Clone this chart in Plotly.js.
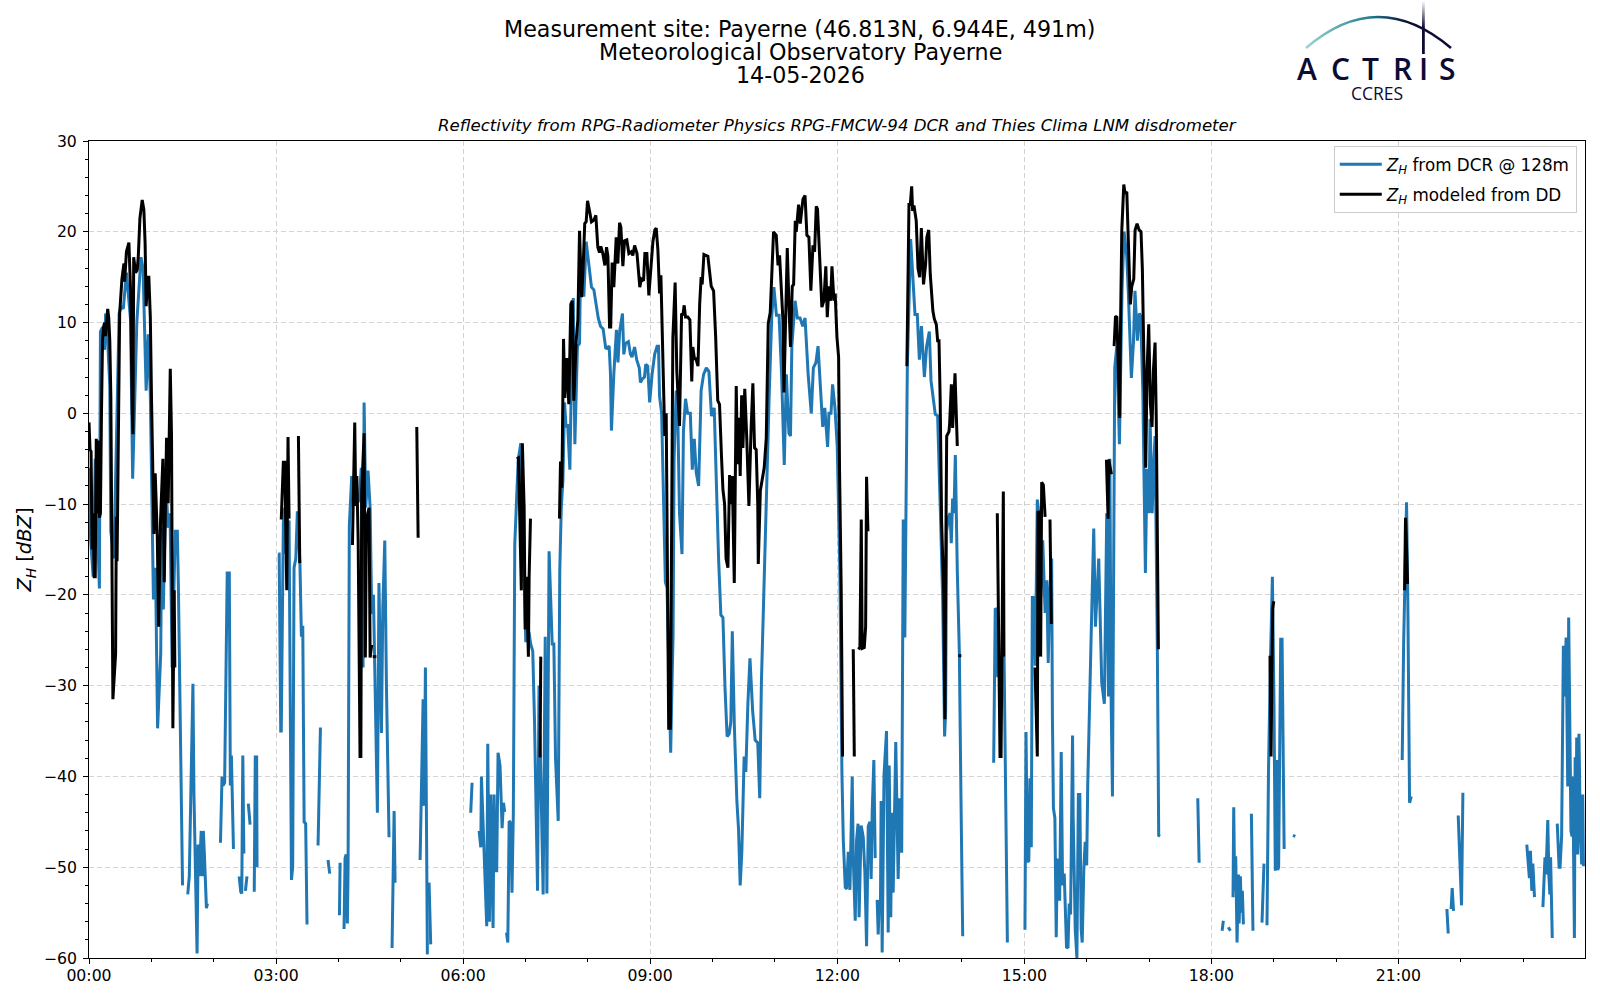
<!DOCTYPE html>
<html>
<head>
<meta charset="utf-8">
<script src="https://cdn.plot.ly/plotly-3.0.1.min.js"></script>
<style>body{margin:0;background:#fff}</style>
</head>
<body>
<div id="graph" style="width:1600px;height:1000px"></div>
<script>
// every point is [minutes since 00:00, dBZ], null means a gap in the line
var dcr_night = [[0,-6],[1,-13],[4,-18],[6,-5],[10,-19.3],[11,9],[13,9.5],[15,7],[16,11],[18,8],[20,3],[21,-13],[24,-16],[26,-5],[29,11],[31,11.8],[33,11.5],[36,15.5],[40,10.3],[42,-7.2],[46,10],[50,17.2],[52,16],[55,2.5],[57,8.7],[59,2],[62,-20.5],[64,-17],[66,-34.7],[69,-26.5],[70,-12.6],[71.5,-21.6],[74,-7.3],[76,-12.6],[78,-11],[80,-28],[83,-13],[85,-13],[86,-19],[90,-52],null,
  [95,-53],[96.5,-51],[100,-29.8],[101,-42],[104,-59.5],[105,-47.5],[106,-51],[107,-47.5],[108,-46],[109,-51],[110,-46],[111,-48.5],[113,-54.5],[114,-54],null,
  [126.5,-47.3],[128,-40],[129,-41],[130.5,-40.7],[133,-17.6],[135,-17.6],[136,-41],[137,-37.7],[139,-48],null,
  [144.5,-51],[146,-52.7],[147,-52.9],[148,-37.7],[149,-48.5],null,[150.5,-52.6],[152,-51],null,[153.3,-43],[155,-45.3],null,
  [159,-52.7],[160,-37.7],[160.7,-49.7],[161.3,-37.7],[161.7,-50],null,
  [182,-15.5],[183,-15.5],[184.5,-35],[185,-35],[187,-12],[188.4,-10.4],[189.6,-15.5],[192.5,-11.8],[194.8,-51.4],[196,-50],[197.3,-17],[199,-16],[200.5,-10.8],[203,-16.7],[204.4,-24.6],[205.7,-23.4],[207,-45],[208.5,-45.2],[209.8,-56.3],null,
  [220.4,-47.6],[221.4,-43],[222.7,-34.6],null,[230,-49.2],[231.6,-50.7],null,[241,-55.3],[241.6,-49.5],null,
  [245.4,-56.8],[246.4,-49],[247.4,-48.6],[248.6,-56.2],[249.3,-50],[250,-30],[250.5,-12.4],[252.8,-6.9],[255,-10],[256.7,-10],[260,-9.6],[262,-6],[263.7,-28],[264.7,1.2],[266.3,-10.4],[268.5,-6.3],[270.5,-10.4],[272,-21.9],[273,-22],[273.7,-20],[275.4,-30],[277.5,-44],[279,-18.7],[281.4,-35.2],[282.7,-21.5],[284.6,-14],[286.2,-30],[288.7,-46.7],null,
  [291.6,-58.9],[293.6,-43.8],[294.5,-51.7],null,[318.6,-49.2],[321.5,-31.5],[322,-43],[322.6,-43.2],[323.7,-28],[325.6,-59.6],null,[327.2,-51.7],[328.8,-58.5],null];

var dcr_morning = [[367.3,-44],[368.6,-40.7],null,
  [375.4,-46],[377,-47.8],[377.6,-40],[379.5,-46.2],[382.7,-56.5],[383.7,-36.4],[385.3,-56],[386.6,-42],[388.8,-56.7],[389.8,-42],[391,-50.4],[392.3,-50.4],[393.6,-37.4],[395.5,-38.8],[397.5,-45.7],[398.8,-42.9],[400,-43.9],null,
  [401.7,-57.2],[403,-58.3],[404.3,-44.9],[406,-45.2],[407,-52.8],[408.3,-44],[409.7,-14.4],[413,-5.1],[415.5,-3.3],[417.2,-10.4],[420.3,-25.2],[421.9,-23.8],[423.5,-24.2],[425,-25.4],[427,-26.2],[428.7,-34],[431.6,-52.6],[433,-30],[434.3,-38],[437,-53],[439,-24.6],[440.6,-52.9],[442.7,-15.2],[444.3,-20.7],[445.7,-25.4],[447.3,-25.4],[448.9,-38],[451.5,-44.9],
  [453,-17.3],[454.4,-10.5],[456,-7.4],[457.6,1.2],[459,-1.5],[460.6,-1.2],[462.7,-6.2],[464.3,4.3],[466,12.7],[467.5,-3.4],[470,7.4],[472,7.7],[473,16.7],[474.6,13],[476.2,13],[478.4,18.9],[480,17.3],[482,16],[483.5,13.9],[485.8,13.6],[487.4,12.3],[490,10.5],[492.2,9.6],[494.7,9.3],[497.3,7.1],[500.5,7.4],[501.8,4.3],[502.7,-1.9],[505,4.3],[507.5,9.2],[509,5.6],[510.6,9],[513.3,11],[514.6,6.5],[516.2,7.7],[519,7.9],[521,6.5],[522.5,6.2],[525,7.3],[527,5.9],[529.5,5],[530.6,3.4],[532.5,3.8],[534.5,4],[535.7,5.4],[537.6,5.2],[539.5,1.2],[541.8,4.3],[544.3,6.5],[546.6,7.4],[548,7.4],[549,1.9],[551,0],[553,-10],[554.6,-18.6],[556.2,-19.2],[557.8,-29],[559.7,-37.4],[561,-29.7],[562,-24.5],[563,-5],[565,2.5],[566.6,-.6],[568.2,-11],[570.6,-15.5],[572,-1.9],[574,1.6],[576,0],[578.6,0],[580.5,-6.2],[582.4,-2.8],[584.3,-6.5],[586.6,-8],[589,2.5],[591.4,4.3],[594,5],[596.5,4.6],[599,-.3],[601.6,.6],[603.5,-8],[605.8,-16],[608,-22.2],[610,-22.5],[612,-30.3],[614,-35.6],[616,-35.3],[617.6,-34],[619,-24],[621,-34.5],[623.4,-42.7],[625,-45.8],[626.6,-52],[628.2,-48.2],[630.4,-37.8],[632,-39.5],[634,-32],[636,-27],[638.6,-32.8],[641,-36],[643.5,-36.3],[645.4,-42.4],[647,-29.7],[649,-20.4],[652,-8],[654.5,2],[657,10.8],[659,13.9],[661.5,10.8],[664,10.8],[666.4,4.3],[669,-5.7],[671,4.3],[673.5,-2.2],[675,-2.5],[676.3,7.4],[679.4,12.4],[681.6,10.5],[684.2,10.5],[686.8,9.6],[689,10.5],[692,4.3],[695,0],[697,5],[699.5,5.6],[701.5,7.4],[704,2.5],[706,-1.5],[708,.6],[710.7,-3.7],[712,0],[714,0],[715.5,3.2],[717.8,.6],[720,-3.7],[722.5,-17.3],[724.5,-39.7],
  [725.8,-47],[727.7,-52.2],[729,-52.4],[730.6,-48.3],[732.2,-52.5],[734.4,-40],[735.4,-49],[737.3,-55.9],[738.6,-47],[740,-45.2],[741,-55.5],[743,-45.4],[745,-46.7],[746.6,-50.7],[748.2,-58.7],[749.8,-45.5],[751.4,-45],[752.6,-51.3],[753.6,-44],[755.2,-38.2],[756.5,-49],null,
  [758.4,-53.6],[759.4,-57.4],[760.4,-53.7],[761.6,-53.8],[762.2,-42.7],[763.2,-59.4],[765,-39.8],[767.4,-35],[769,-57.2],[770,-38.8],[771.5,-55.5],[772.5,-44],[773.8,-52.8],[775,-43.2],[776.3,-36.2],[778.6,-51.3],[780,-42.4],[782,-48.4],[783.5,-11.7],[785,-24.7],[786,-11.4],[787.4,5],[790.6,19.2],[793,13.6],[794.8,10.9],[797,10.9],[799,5.9],[801,9.6],[803.8,4],[806,7.4],[808.6,9],[810.2,3.6],[812.4,1.8],[814.3,-.1],[816.6,-.3],[818,-5],[819.5,-12],[821.4,-20.3],[823.3,-35.6],[824.3,-32.8],[825.2,-13],[827,-11.4],[828.6,-11],[829.7,-14.3],[831,-9.4],[832.3,-11],[833.6,-4.6],[835.5,-17.3],[837.5,-26.5],[839,-42],[840.7,-57.6],null];

var dcr_afternoon = [[870.5,-38.5],[872,-21.5],[873.3,-21.6],[874.3,-28.9],[876.6,-28.9],[878.8,-27],[880.5,-26.8],[883.7,-58.3],null,
  [900.6,-56.9],[901.6,-35.1],[903,-49.3],[904.3,-49.4],[905.4,-40.2],[906.7,-47.8],[907.7,-20.3],[909.3,-20.3],[910.6,-27.8],[912.5,-9.5],[914,-11],[915.7,-20.3],[917.7,-14],[920,-22],[921.6,-18.4],[923,-27.5],[924.6,-19.3],[926.3,-16],[927,-33],[928,-43.5],[929.4,-44.6],[930.7,-57.7],[931.7,-49.3],[932.6,-49.1],[934,-53.7],[935.5,-37.3],[936.8,-52],[938.4,-50.7],[940.6,-58.8],[942,-58.9],[943.2,-54],[944.5,-55.2],[946.4,-35.5],[947,-44.5],[949,-56.9],[950.6,-60],[952,-42],[953.4,-42],[954.7,-56.8],[955.7,-58.3],[957.3,-50],[958.6,-47.2],[960,-49.8],[961,-41],[964,-26],[966.8,-12.7],[968.4,-23.5],[971.6,-16],[974.5,-29.7],[977,-32],[979.3,-11],[981,-31.2],[982.3,-5],[983.5,-31.2],[984.8,-42.2],[987,5],[989,7.4],[991.5,-3.4],[994,13.6],[996,20],[998.5,17.4],[1000,13.6],[1003,3.9],[1005,7.8],[1006.5,13.5],[1008.8,8],[1010.7,11],[1012,10.7],[1014,2.5],[1016.5,-17.6],[1018,-6.1],[1020,-11],[1021,-.6],[1023,-11],[1024.3,-6.1],[1025.8,-2.5],[1028,-26],[1029.3,-46.5],[1030.6,-46.6],null,
  [1066.9,-42.4],[1068.2,-49.5],null,
  [1090.3,-57],[1091.5,-55.9],null,[1096.3,-56.6],[1098.3,-57],null,
  [1100.8,-53.3],[1101.5,-43.4],[1102.4,-52.6],[1103.4,-48.8],[1104.7,-58.3],[1106,-50.8],[1106.7,-56.2],[1107.9,-51],[1108.8,-55],[1109.8,-52.6],[1110.8,-56.3],null,
  [1118.5,-44.1],[1119.4,-57],[1120,-57],null,[1128.7,-56.1],[1130.6,-49.6],null,
  [1133.5,-56.4],[1135,-39],[1136.7,-28],[1138.7,-18],[1140.2,-31.6],[1141.5,-50.4],[1143,-38.2],[1143.8,-50.3],[1144.7,-50],[1146.7,-24.9],[1148,-24.9],[1150,-48],null,
  [1158.5,-46.5],[1160.8,-46.6],null];

var dcr_evening = [[1263.6,-38.2],[1265,-25.3],[1267.8,-9.8],[1269,-20.6],[1270.7,-42.9],[1272.3,-42.2],null,
  [1306.6,-54.6],[1307.9,-57.3],null,[1310.7,-54.6],[1311.7,-52.3],[1313,-54.8],null,[1317.5,-44.3],[1320.7,-54.2],[1322,-41.8],null,
  [1383.5,-47.5],[1386,-51.2],[1387,-48.2],[1388.3,-52.6],[1389.3,-49.6],[1390.9,-53.3],null,
  [1399,-54.4],[1401,-48.9],[1402,-50.8],[1403.7,-44.8],[1404.7,-50.8],[1405.7,-53],[1406.4,-48.9],[1408,-57.8],null,
  [1412.8,-45.2],[1414.6,-50],[1415.5,-50],[1417,-46.6],[1418.7,-25.6],[1420,-31.2],[1421.3,-24.7],[1422.9,-41.1],[1423.8,-22.5],[1425,-39],[1426,-46],[1427,-46.6],[1427.8,-40],[1429.3,-57.8],[1430,-37.9],[1431,-46.8],[1431.5,-35.7],[1432.4,-48.6],[1433.7,-35.3],[1435,-46],[1436.3,-49.7],[1437.3,-42],[1438,-49.9]];

var dd_night = [[0,-1],[1,-4],[2,-4.2],[3,-15],[4,-11],[5,-18],[6,-18],[7,-2.8],[8,-11],[9,-3],[10,-11.5],[11,-11],[12,0],[13,8],[14,9.5],[15,10],[16,8.5],[17,10],[18,11.5],[19,10.5],[20,8],[21,2],[23,-31.5],[25.6,-26.5],[26.3,-11.4],[27,-16.3],[29.5,11],[31.7,14.8],[33.6,16.5],[34.3,14.5],[36,17.8],[38.4,18.8],[40,13.5],[41.6,.5],[42.3,-2.3],[43,17.2],[44.8,15.5],[46.4,15.8],[47.4,17.2],[49,21.5],[51.2,23.5],[52.8,22.4],[54,18.7],[55,11.8],[56.4,15],[57.6,15],[59,10.6],[60.2,1.3],[62.5,-13.3],[63.7,-6.6],[65.7,-13.5],[67,-23.5],[68.9,-11.6],[71.1,-5],[72.4,-18.6],[74.6,-2.7],[76.2,-9.9],[78.2,4.9],[79.4,-2.5],[80.7,-34.7],[82,-19.5],[82.6,-28],null,
  [185,-11.7],[187,-5.4],[188.4,-5.4],[189.6,-15.5],[190.3,-19.5],[191.5,-2.6],[192.5,-11.6],null,[201.5,-2.5],[202.8,-16.5],null,
  [253.5,-14.5],[255.7,-1],[256.7,-10.2],[257.7,-6.9],[259,-14],[260.8,-37.8],[261.6,-37.8],[262.4,-8.7],[264.7,-2.2],[265.2,-10.4],[265.9,-26.9],[267,-11.6],[269.5,-10.4],[270.5,-26.9],[272,-25.5],null,[273,-26.8],[276.5,-26.8],null,
  [315.4,-1.5],[316.7,-13.7],null];

var dd_morning = [[411.6,-5],[413.2,-4.9],[414,-8.8],[416,-19.5],[417,-3.3],[418.7,-10.4],[419.7,-23.8],[421,-18],[422.8,-26.8],[423.5,-18.1],[424.8,-11.6],null,[434,-37.9],[434.7,-26.8],null,
  [452.7,-11.6],[453.7,-5.3],[455,-8.2],[456.6,8.2],[457.9,1.7],[459.8,6.1],[461.7,1],[463.6,12],[465,12.4],[466.5,1.4],[468.8,8],[470.4,10.3],[472,20.1],[474,12.8],[475.3,15.6],[477,20.9],[478.4,21.1],[479.7,23.4],[481.6,22.3],[483.5,21.1],[485.8,21.3],[487.7,21.8],[489.6,18.3],[491.2,17.7],[492.5,18.4],[494.4,17.6],[496.4,16.3],[498,18.3],[499.3,17.3],[500.9,9.5],[502,9.5],[503.4,16.6],[505,13.9],[507.3,19.4],[508.9,16.5],[510.5,21],[511.8,20.5],[513.7,16.2],[515.3,19],[517.5,19.1],[519.5,17.6],[521.7,17.8],[523.3,17.4],[525,18.5],[527.3,17.6],[528.6,16.1],[530,13.9],[531.5,14.8],[533.6,14.6],[534.9,17.6],[536.8,17.6],[538.7,13],[540.6,15.5],[542.6,18.9],[544.5,20.2],[545.8,20.4],[547.4,18],[549,13.2],[550.3,15.2],[551.6,8.4],[552.8,.3],[554,-2.5],[555.4,0],[557.8,-34.7],[559.4,-34.7],[560.8,-5],[561.8,8.3],[564,14.4],[565.6,4.7],[568.2,-1.4],[570.2,11],[571.5,10.8],[572.7,11.9],[574,10.6],[576.2,10.6],[578.2,10.3],[580,3.5],[581,7.3],[582.6,6],[584,6],[586,5.2],[587.6,12],[589,15],[590,14.2],[591.7,17.5],[595.5,17.3],[597.1,15.4],[598.7,14],[601,13.5],[603,8.4],[605,1.4],[606.7,1],[608.7,-5],[610,-8.4],[611.6,-10],[613,-16],[614.8,-17],[616.4,-6.8],[617.7,-10],[619,-6.9],[620.9,-18.7],[622.8,3],[624,-5.6],[625.4,-.5],[626.6,-6.9],[628,2],[629.2,-3.8],[631,2.7],[632.9,-2.7],[635,-10.2],[637,-2],[638.8,3.3],[640.4,-3.8],[642,-4],[643.5,-10],[644,-16.6],[646,-8.5],[647.9,-7.4],[649.7,-6],[651.7,-2.7],[653.6,9.9],[655.5,11.1],[656.8,15.7],[658.7,20],[661.3,19.6],[663,16.3],[664.5,17.4],[666.1,13.9],[667.7,10.3],[668.7,2.3],[670.3,12],[671.9,18.2],[673.5,12],[675,7.3],[676.7,14],[678,14.2],[679.6,21.2],[680.5,20],[682.8,23],[684.4,20.9],[687,23.6],[689,24],[690.8,19.6],[692.7,19.4],[694.6,13.5],[696.6,18.5],[698.2,17.8],[699.8,22.8],[701,22.5],[703,16.8],[705.2,11.7],[707.1,12.4],[709,16.2],[710.4,10.6],[712,14],[713.6,12.4],[714.9,16.2],[716.8,12.4],[718,13.2],[719.7,8.4],[721.3,6.2],[722.2,-6.3],[723.8,-19.5],[725.1,-37.8],null,
  [735.4,-26],[736.4,-37.8],null,[740.2,-26],[741.8,-25.8],[743.1,-11.7],[744,-25.9],[746,-25.8],[747.3,-23.5],[748.2,-7],[749.5,-13],null,
  [787,5.2],[789,23],[790.3,23],[791.6,25],[792.5,22.3],[793.8,22.9],[796,21.2],[797.7,16],[799.3,15],[800.9,20.4],[803,14.2],[805,16.4],[806.2,19.4],[808,20.2],[809.5,15.3],[812,11.3],[813.4,10.4],[815.3,9.8],[816.6,8],[817.9,8],[819,1.7],[820.4,-11.9],[822.4,-19.6],[823.6,-33.7],[824.3,-17.3],[825.3,-2.5],[827.5,-2],[828.1,-1.2],[829.8,3.2],[831,-1.6],[833.3,4.4],[835.5,-3.6],null,
  [836.5,-26.7],[839.4,-26.7],null];

var dd_afternoon = [[874,-11],[876.6,-37.8],[877.6,-37.8],[879.8,-8.6],[880.4,-26.8],null,
  [910.3,-28],[912.5,-37.8],[913.2,-10.8],[915,-11],[915.7,-26.8],[916.7,-7.6],[918.3,-7.9],[920,-11.4],null,[924.7,-11.7],[926,-23.2],null,
  [979,-5.1],[980.6,-11.6],[981.2,-5.1],[983.8,-6.7],null,
  [986.4,7.4],[987.7,10.6],[989,10.7],[990.3,4.7],[991.8,-.5],[992.4,8.3],[993.8,20.2],[995.7,25.2],[997,24.2],[998.6,24.4],[1000,18],[1002,12],[1003.4,14],[1005.3,14.8],[1006.6,20.2],[1008.5,20.9],[1010.4,20.2],[1012.3,20],[1013.6,15.8],[1014.9,4.7],[1016.8,-6],[1018.1,4.7],[1019.7,9.8],[1021.3,1],[1022.9,-1.5],[1024.2,4.7],[1025.8,7.8],[1027,-1],[1029,-26],null,
  [1136.4,-26.7],[1137.4,-37.8],[1138.4,-27],[1139,-21.5],[1140,-20.7],null];

var dd_evening = [[1265.9,-19.5],[1266.8,-11.5],[1267.4,-13.4],[1268.8,-18.8],null];

var hour_ticks = [0,180,360,540,720,900,1080,1260];
var hour_labels = ["00:00","03:00","06:00","09:00","12:00","15:00","18:00","21:00"];
var minor_hours = [60,120,240,300,420,480,600,660,780,840,960,1020,1140,1200,1320,1380];

var header_lines = ["Measurement site: Payerne (46.813N, 6.944E, 491m)","Meteorological Observatory Payerne","14-05-2026"];
var header_y = [29,51.5,75];
var subtitle = "Reflectivity from RPG-Radiometer Physics RPG-FMCW-94 DCR and Thies Clima LNM disdrometer";
var logo_letters = ["A","C","T","R","I","S"];
var logo_x = [1307,1340,1370,1402,1423,1447];

var dcr = dcr_night.concat(dcr_morning, dcr_afternoon, dcr_evening);
var dd = dd_night.concat(dd_morning, dd_afternoon, dd_evening);

function xs(a){ return a.map(function(p){ return p ? p[0] : null; }); }
function ys(a){ return a.map(function(p){ return p ? p[1] : null; }); }

// page pixels to paper coords, the plot area goes 89..1585 and 141..958
function px(x){ return (x-89)/1496; }
function py(y){ return (958-y)/817; }

var trace_dcr = {
  x: xs(dcr), y: ys(dcr),
  mode: 'lines',
  name: '<i>Z<sub>H</sub></i> from DCR @ 128m',
  legendgroup: 'dcr',
  line: {color:'#1f77b4', width:3}
};
var trace_dd = {
  x: xs(dd), y: ys(dd),
  mode: 'lines',
  name: '<i>Z<sub>H</sub></i> modeled from DD',
  legendgroup: 'dd',
  line: {color:'#000000', width:3}
};

var annotations = [];
for (let i=0; i<header_lines.length; i++){
  annotations.push({text:header_lines[i], xref:'paper', yref:'paper', x:px(800), y:py(header_y[i]),
    showarrow:false, xanchor:'center', yanchor:'middle', font:{size:22.2, color:'#000'}});
}
annotations.push({text:'<i>'+subtitle+'</i>', xref:'paper', yref:'paper', x:px(837), y:py(126),
  showarrow:false, xanchor:'center', yanchor:'middle', font:{size:16.6, color:'#000'}});
for (let i=0; i<logo_letters.length; i++){
  annotations.push({text:logo_letters[i], xref:'paper', yref:'paper', x:px(logo_x[i]), y:py(68),
    showarrow:false, xanchor:'center', yanchor:'middle',
    font:{family:'"Open Sans", sans-serif', size:30, weight:600, color:'#0c0b33'}});
}
annotations.push({text:'CCRES', xref:'paper', yref:'paper', x:px(1377), y:py(93),
  showarrow:false, xanchor:'center', yanchor:'middle',
  font:{family:'"Open Sans", sans-serif', size:17.5, color:'#0c0b33'}});

var arc_svg = '<svg xmlns="http://www.w3.org/2000/svg" width="160" height="60" viewBox="0 0 160 60">'
  + '<defs><linearGradient id="a" x1="0" x2="1" y1="0" y2="0"><stop offset="0" stop-color="#9ad6d0"/><stop offset="0.45" stop-color="#1f7a90"/><stop offset="0.7" stop-color="#0c0b33"/></linearGradient>'
  + '<linearGradient id="b" x1="0" x2="0" y1="0" y2="1"><stop offset="0" stop-color="#0c0b33" stop-opacity="0"/><stop offset="0.5" stop-color="#0c0b33"/></linearGradient></defs>'
  + '<path d="M6 48 Q 78 -14 151 48" fill="none" stroke="url(#a)" stroke-width="2.6"/>'
  + '<rect x="122" y="1" width="2.8" height="53" fill="url(#b)"/></svg>';

var layout = {
  width: 1600, height: 1000,
  margin: {l:89, r:15, t:141, b:42},
  paper_bgcolor: '#fff', plot_bgcolor: '#fff',
  font: {family:'"DejaVu Sans", sans-serif', size:16, color:'#000'},
  xaxis: {
    range: [0,1439.5],
    tickmode: 'array', tickvals: hour_ticks, ticktext: hour_labels,
    ticks: 'outside', ticklen: 5, tickwidth: 1, tickcolor: '#000', ticklabelstandoff: -2,
    showgrid: true, gridcolor: 'lightgray', griddash: '5px,3px', gridwidth: 1,
    minor: {tickmode:'array', tickvals:minor_hours, ticks:'outside', ticklen:3, tickcolor:'#000', showgrid:false},
    showline: true, linecolor: '#000', linewidth: 1, mirror: true,
    zeroline: false, tickfont: {size:15.7}
  },
  yaxis: {
    range: [-60,30],
    dtick: 10, tick0: 0,
    ticks: 'outside', ticklen: 5, tickwidth: 1, tickcolor: '#000', ticklabelstandoff: 3,
    showgrid: true, gridcolor: 'lightgray', griddash: '5px,3px', gridwidth: 1,
    minor: {dtick:2, ticks:'outside', ticklen:3, tickcolor:'#000', showgrid:false},
    showline: true, linecolor: '#000', linewidth: 1, mirror: true,
    zeroline: false, tickfont: {size:15.7},
    title: {text:'<i>Z<sub>H</sub></i> [<i>dBZ</i>]', font:{size:19.5}, standoff:6}
  },
  legend: {
    x: 0.9945, y: 0.994, xanchor: 'right', yanchor: 'top',
    bgcolor: 'rgba(255,255,255,0.8)', bordercolor: '#ccc', borderwidth: 1,
    font: {size:16.8}, itemwidth: 42, traceorder: 'grouped', tracegroupgap: 5
  },
  annotations: annotations,
  images: [{source:'data:image/svg+xml;utf8,'+encodeURIComponent(arc_svg),
    xref:'paper', yref:'paper', x:px(1300), y:py(0), sizex:160/1496, sizey:60/817,
    xanchor:'left', yanchor:'top', sizing:'stretch', layer:'above'}],
  showlegend: true
};

Plotly.newPlot('graph', [trace_dcr, trace_dd], layout, {displayModeBar:false, staticPlot:true});
</script>
</body>
</html>
